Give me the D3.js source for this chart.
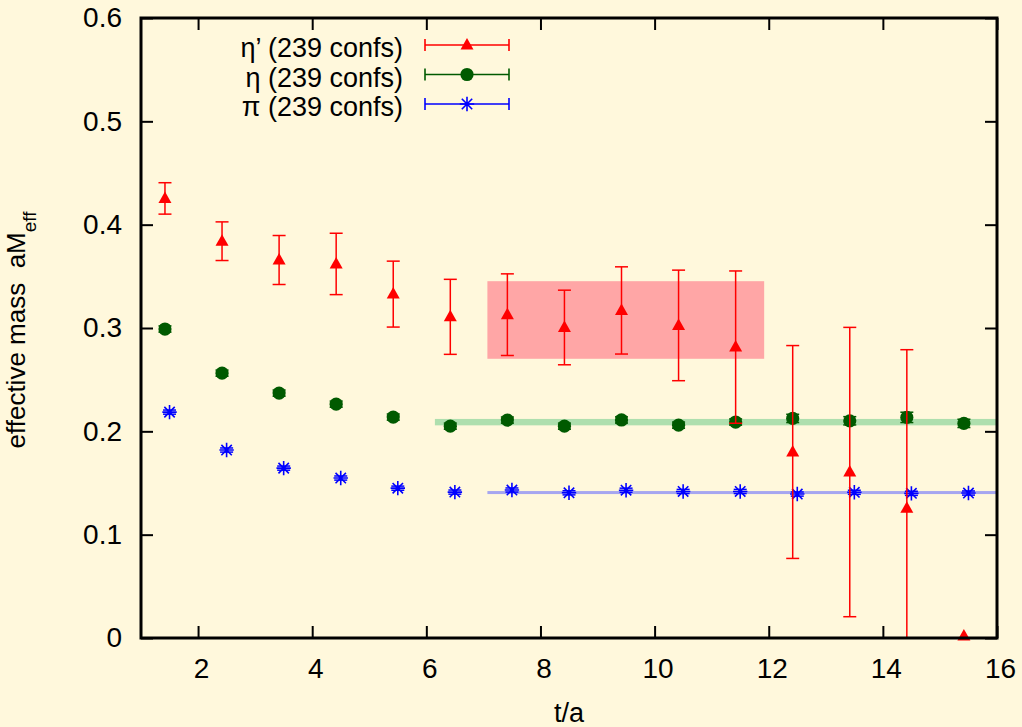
<!DOCTYPE html>
<html>
<head>
<meta charset="utf-8">
<script src="https://cdn.jsdelivr.net/npm/d3@7"></script>
<style>
  html, body { margin: 0; padding: 0; background: #fff8dc; }
  svg { display: block; font-family: "Liberation Sans", Arial, sans-serif; }
</style>
</head>
<body>
<svg id="chart" width="1022" height="727"></svg>
<script>
// Effective masses of eta', eta and pi versus time separation t/a
const etaPrimeT   = [1.42, 2.42, 3.42, 4.42, 5.42, 6.42, 7.42, 8.42, 9.42, 10.42, 11.42, 12.42, 13.42, 14.42, 15.42];
const etaPrimeM   = [0.4254, 0.384, 0.3658, 0.362, 0.3328, 0.3108, 0.3129, 0.3005, 0.317, 0.3025, 0.2815, 0.180, 0.1606, 0.1255, 0.002];
const etaPrimeErr = [0.0152, 0.0187, 0.0237, 0.0297, 0.0319, 0.0363, 0.0395, 0.0361, 0.0422, 0.0535, 0.0737, 0.103, 0.140, 0.1535, 0.0];

const etaT   = [1.42, 2.42, 3.42, 4.42, 5.42, 6.42, 7.42, 8.42, 9.42, 10.42, 11.42, 12.42, 13.42, 14.42, 15.42];
const etaM   = [0.299, 0.2563, 0.237, 0.2263, 0.2138, 0.205, 0.2109, 0.205, 0.211, 0.206, 0.209, 0.2125, 0.2102, 0.2135, 0.2077];
const etaErr = [0.003, 0.003, 0.003, 0.003, 0.003, 0.003, 0.003, 0.003, 0.003, 0.003, 0.003, 0.004, 0.004, 0.005, 0.004];

const piT   = [1.5, 2.5, 3.5, 4.5, 5.5, 6.5, 7.5, 8.5, 9.5, 10.5, 11.5, 12.5, 13.5, 14.5, 15.5];
const piM   = [0.2186, 0.1819, 0.1644, 0.1548, 0.145, 0.1412, 0.1432, 0.1405, 0.143, 0.1418, 0.1418, 0.1393, 0.141, 0.140, 0.1403];
const piErr = [0.002, 0.002, 0.002, 0.002, 0.002, 0.002, 0.002, 0.002, 0.002, 0.002, 0.002, 0.002, 0.002, 0.002, 0.002];

// Fit results: [tMin, tMax, mass low, mass high]
const etaPrimeFit = [7.07, 11.92, 0.2702, 0.3453];
const etaFit      = [6.15, 16, 0.2058, 0.2120];
const piFit       = [7.07, 16, 0.1393, 0.1422];

const xTicks = [2, 4, 6, 8, 10, 12, 14, 16];
const yTicks = [0, 0.1, 0.2, 0.3, 0.4, 0.5, 0.6];
const legendLabels = ["η’ (239 confs)", "η (239 confs)", "π (239 confs)"];

const colors = { etaPrime: "#ff0000", eta: "#005a00", pi: "#0000ff" };
const bandColors = { etaPrime: "#ffa6a6", eta: "#aedfae", pi: "#a6a6f0" };

const svg = d3.select("#chart");
const L = 141, R = 997, T = 18, B = 638;
const x = d3.scaleLinear().domain([1, 16]).range([L, R]);
const y = d3.scaleLinear().domain([0, 0.6]).range([B, T]);

svg.append("rect").attr("width", 1022).attr("height", 727).attr("fill", "#fff8dc");

// fit bands
function band(f, col) {
  svg.append("rect")
    .attr("x", x(f[0])).attr("width", x(f[1]) - x(f[0]))
    .attr("y", y(f[3])).attr("height", y(f[2]) - y(f[3]))
    .attr("fill", col);
}
band(etaPrimeFit, bandColors.etaPrime);
band(etaFit, bandColors.eta);
band(piFit, bandColors.pi);

// axes with inward ticks, mirrored on the opposite sides
function styleAxis(g) {
  g.select(".domain").remove();
  g.selectAll(".tick line").attr("stroke", "#000").attr("stroke-width", 2);
  g.selectAll("text").attr("fill", "#000").style("font-size", "28px")
    .style("font-family", "'Liberation Sans', Arial, sans-serif");
}
svg.append("g").attr("transform", `translate(0,${B})`)
  .call(d3.axisBottom(x).tickValues(xTicks).tickSizeInner(-12).tickSizeOuter(0).tickPadding(20).tickFormat(d3.format("d")))
  .call(styleAxis)
  .call(g => g.selectAll("text").attr("dx", 3));
svg.append("g").attr("transform", `translate(0,${T})`)
  .call(d3.axisTop(x).tickValues(xTicks).tickSizeInner(-12).tickSizeOuter(0).tickFormat(""))
  .call(styleAxis);
svg.append("g").attr("transform", `translate(${L},0)`)
  .call(d3.axisLeft(y).tickValues(yTicks).tickSizeInner(-12).tickSizeOuter(0).tickPadding(19)
    .tickFormat(d => d === 0 ? "0" : d3.format(".1f")(d)))
  .call(styleAxis);
svg.append("g").attr("transform", `translate(${R},0)`)
  .call(d3.axisRight(y).tickValues(yTicks).tickSizeInner(-12).tickSizeOuter(0).tickFormat(""))
  .call(styleAxis);

// marker shapes
function triangle(g, cx, cy, col) {
  g.append("path").attr("d", `M${cx},${cy - 7}L${cx + 6.5},${cy + 4.5}L${cx - 6.5},${cy + 4.5}Z`).attr("fill", col);
}
function circle(g, cx, cy, col) {
  g.append("circle").attr("cx", cx).attr("cy", cy).attr("r", 6.6).attr("fill", col);
}
function star(g, cx, cy, col) {
  const s = 7.2, d = 5.2;
  g.append("path")
    .attr("d", `M${cx - s},${cy}H${cx + s}M${cx},${cy - s}V${cy + s}M${cx - d},${cy - d}L${cx + d},${cy + d}M${cx - d},${cy + d}L${cx + d},${cy - d}`)
    .attr("stroke", col).attr("stroke-width", 1.6).attr("fill", "none");
}

// clip data to the plotting area
svg.append("clipPath").attr("id", "plotClip")
  .append("rect").attr("x", L).attr("y", T - 10).attr("width", R - L).attr("height", B - T + 10);

function series(ts, ms, es, col, marker, lw) {
  const g = svg.append("g");
  const eb = g.append("g").attr("clip-path", "url(#plotClip)");
  ts.forEach((t, i) => {
    const cx = x(t), y1 = y(ms[i] + es[i]), y0 = y(ms[i] - es[i]);
    if (es[i] > 0) {
      eb.append("line").attr("x1", cx).attr("x2", cx).attr("y1", y1).attr("y2", y0)
        .attr("stroke", col).attr("stroke-width", lw);
      [y1, y0].forEach(yy => eb.append("line").attr("x1", cx - 6.5).attr("x2", cx + 6.5)
        .attr("y1", yy).attr("y2", yy).attr("stroke", col).attr("stroke-width", lw));
    }
  });
  ts.forEach((t, i) => marker(g, x(t), y(ms[i]), col));
}
series(piT, piM, piErr, colors.pi, star, 1.5);
series(etaT, etaM, etaErr, colors.eta, circle, 1.5);
series(etaPrimeT, etaPrimeM, etaPrimeErr, colors.etaPrime, triangle, 1.5);

// frame
svg.append("rect").attr("x", L).attr("y", T).attr("width", R - L).attr("height", B - T)
  .attr("fill", "none").attr("stroke", "#000").attr("stroke-width", 3);

// legend
const legendRows = [
  { label: legendLabels[0], col: colors.etaPrime, marker: triangle },
  { label: legendLabels[1], col: colors.eta, marker: circle },
  { label: legendLabels[2], col: colors.pi, marker: star }
];
legendRows.forEach((r, i) => {
  const ly = 45 + i * 29.5;
  const g = svg.append("g");
  g.append("text").attr("x", 403).attr("y", ly + 12).attr("text-anchor", "end")
    .style("font-size", "27px").attr("fill", "#000").text(r.label);
  g.append("line").attr("x1", 425).attr("x2", 509).attr("y1", ly).attr("y2", ly)
    .attr("stroke", r.col).attr("stroke-width", 1.6);
  [425, 509].forEach(xx => g.append("line").attr("x1", xx).attr("x2", xx)
    .attr("y1", ly - 6).attr("y2", ly + 6).attr("stroke", r.col).attr("stroke-width", 1.6));
  r.marker(g, 467, ly, r.col);
});

// axis titles
svg.append("text").attr("x", 569).attr("y", 722).attr("text-anchor", "middle")
  .style("font-size", "27px").attr("fill", "#000").text("t/a");
const yl = svg.append("text").attr("transform", "translate(25,330) rotate(-90)")
  .attr("text-anchor", "middle").style("font-size", "26px").attr("fill", "#000")
  .attr("xml:space", "preserve");
yl.append("tspan").text("effective mass  aM");
yl.append("tspan").attr("baseline-shift", "sub").style("font-size", "19px").text("eff");
</script>
</body>
</html>
